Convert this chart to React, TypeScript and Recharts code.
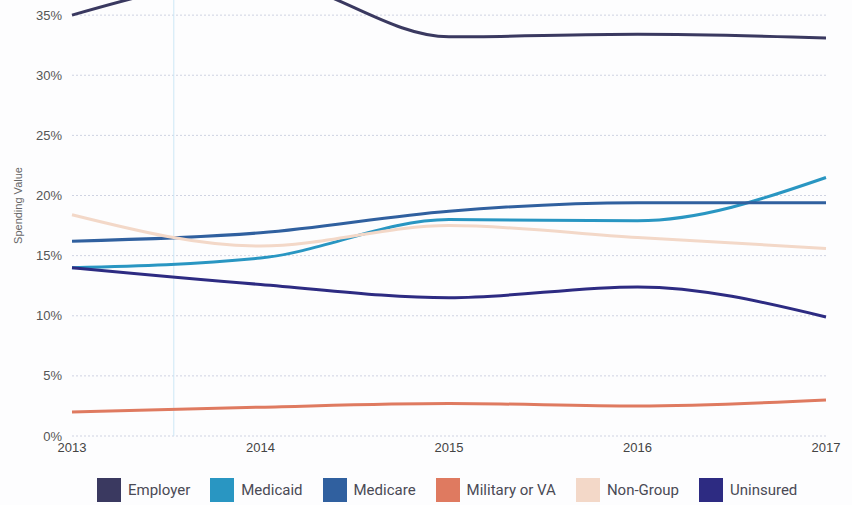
import { LineChart, Line, XAxis, YAxis, CartesianGrid, Legend, ReferenceLine } from "recharts";

const years = [2013, 2014, 2015, 2016, 2017];
const employer = [35.0, 38.0, 33.2, 33.4, 33.1];
const medicaid = [14.0, 14.8, 18.0, 17.9, 21.5];
const medicare = [16.2, 16.9, 18.7, 19.4, 19.4];
const military = [2.0, 2.4, 2.7, 2.5, 3.0];
const nonGroup = [18.4, 15.8, 17.5, 16.5, 15.6];
const uninsured = [14.0, 12.6, 11.5, 12.4, 9.9];
const yTicks = [0, 5, 10, 15, 20, 25, 30, 35];

const series = [
  { key: "employer", name: "Employer", color: "#3a3960", values: employer },
  { key: "medicaid", name: "Medicaid", color: "#2996c2", values: medicaid },
  { key: "medicare", name: "Medicare", color: "#30609f", values: medicare },
  { key: "military", name: "Military or VA", color: "#df7a60", values: military },
  { key: "nonGroup", name: "Non-Group", color: "#f3d8c8", values: nonGroup },
  { key: "uninsured", name: "Uninsured", color: "#2d2b82", values: uninsured },
];

const data = years.map((year, i) => {
  const row: Record<string, number> = { year };
  series.forEach((s) => {
    row[s.key] = s.values[i];
  });
  return row;
});

const renderLegend = () => (
  <div style={{ display: "flex", justifyContent: "flex-start", paddingLeft: 85 }}>
    {series.map((s) => (
      <div key={s.key} style={{ display: "flex", alignItems: "center", marginRight: 20, whiteSpace: "nowrap" }}>
        <span style={{ width: 24, height: 24, background: s.color, display: "inline-block", marginRight: 7 }} />
        <span style={{ fontFamily: "Roboto, sans-serif", fontSize: 15, color: "#4a4a55" }}>{s.name}</span>
      </div>
    ))}
  </div>
);

export default function App() {
  return (
    <div style={{ position: "fixed", left: 0, top: 0, width: 852, height: 505, overflow: "hidden", background: "#fdfdfe" }}>
      <div style={{ position: "absolute", left: 0, top: -60 }}>
        <LineChart width={852} height={565} data={data} margin={{ top: 15, right: 26, bottom: 9, left: 12 }}>
          <CartesianGrid vertical={false} stroke="#cfd3e2" strokeDasharray="2 2" />
          <XAxis
            dataKey="year"
            type="number"
            domain={[2013, 2017]}
            ticks={years}
            axisLine={false}
            tickLine={false}
            tickSize={0}
            tickMargin={7}
            height={30}
            tick={{ fill: "#444", fontSize: 13, fontFamily: "Liberation Sans, Arial, sans-serif" }}
          />
          <YAxis
            domain={[0, 40]}
            ticks={yTicks}
            tickFormatter={(v) => `${v}%`}
            axisLine={false}
            tickLine={false}
            tickSize={0}
            tickMargin={10}
            width={60}
            tick={{ fill: "#555", fontSize: 13, fontFamily: "Liberation Sans, Arial, sans-serif" }}
            label={{
              value: "Spending Value",
              angle: -90,
              position: "insideLeft",
              offset: 0,
              dx: 6,
              dy: 10,
              style: { textAnchor: "middle", fill: "#666", fontSize: 11, fontFamily: "Liberation Sans, Arial, sans-serif" },
            }}
          />
          <ReferenceLine x={2013.54} stroke="#cde7f6" strokeWidth={1} ifOverflow="extendDomain" />
          <Legend verticalAlign="bottom" content={renderLegend} wrapperStyle={{ height: 30, bottom: -3 }} />
          {series.map((s) => (
            <Line
              key={s.key}
              type="monotone"
              dataKey={s.key}
              name={s.name}
              stroke={s.color}
              strokeWidth={3}
              dot={false}
              activeDot={false}
              isAnimationActive={false}
            />
          ))}
        </LineChart>
      </div>
    </div>
  );
}
